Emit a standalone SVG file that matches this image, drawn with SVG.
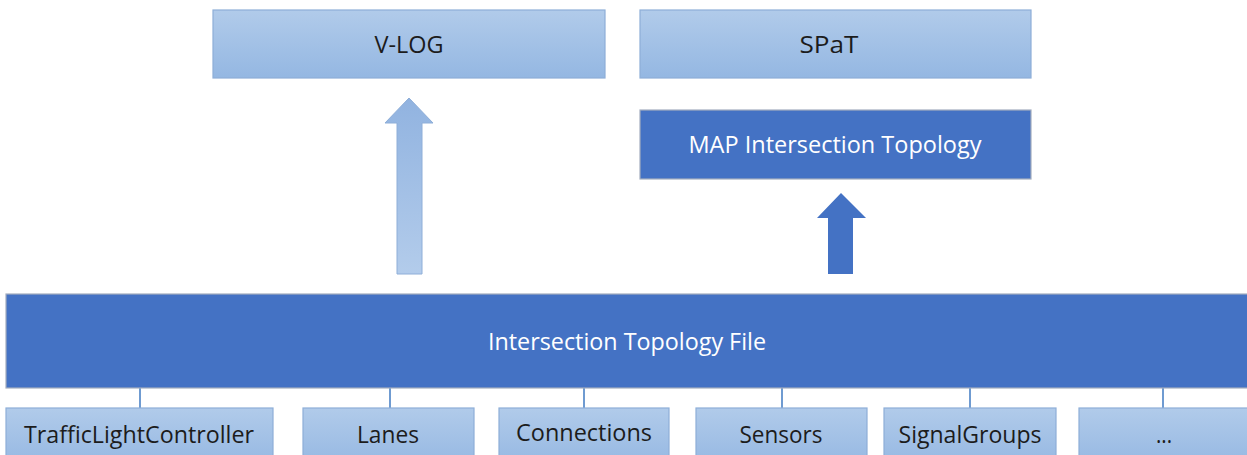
<svg xmlns="http://www.w3.org/2000/svg" width="1247" height="455" viewBox="0 0 1247 455">
  <defs>
    <linearGradient id="lightFill" x1="0" y1="0" x2="0" y2="1">
      <stop offset="0" stop-color="#b1cbea"/>
      <stop offset="1" stop-color="#94b7e2"/>
    </linearGradient>
    <linearGradient id="arrowFill" x1="0" y1="0" x2="0" y2="1">
      <stop offset="0" stop-color="#91b3e0"/>
      <stop offset="1" stop-color="#b3cceb"/>
    </linearGradient>
  </defs>
  <style>
    .light { fill: url(#lightFill); stroke: #8eaed8; stroke-width: 1.2; }
    .dark { fill: #4472c4; stroke: #a3adbf; stroke-width: 1.2; }
    .lbl { font-family: "Open Sans", "Liberation Sans", sans-serif; font-size: 24px; fill: #1c1c1c; text-anchor: middle; }
    .lblw { font-family: "Open Sans", "Liberation Sans", sans-serif; font-size: 24px; fill: #ffffff; text-anchor: middle; }
    .link { stroke: #6f9bd1; stroke-width: 2; fill: none; }
  </style>

  <!-- tree links from the topology file to its parts -->
  <g id="connectors">
    <line class="link" x1="140" y1="388" x2="140" y2="408"/>
    <line class="link" x1="390" y1="388" x2="390" y2="408"/>
    <line class="link" x1="584" y1="388" x2="584" y2="408"/>
    <line class="link" x1="782" y1="388" x2="782" y2="408"/>
    <line class="link" x1="970" y1="388" x2="970" y2="408"/>
    <line class="link" x1="1163" y1="388" x2="1163" y2="408"/>
    <!-- block arrows -->
    <path id="arrow-vlog" d="M397 274 L397 123 L385 123 L409 98 L433 123 L422 123 L422 274 Z" fill="url(#arrowFill)" stroke="#8eaed8" stroke-width="1"/>
    <path id="arrow-map" d="M828 274 L828 218 L817 218 L841 193 L866 218 L853 218 L853 274 Z" fill="#4472c4"/>
  </g>

  <g id="vlog">
    <rect class="light" x="213" y="10" width="392" height="68"/>
    <text class="lbl" x="409" y="53" textLength="69" lengthAdjust="spacingAndGlyphs">V-LOG</text>
  </g>
  <g id="spat">
    <rect class="light" x="640" y="10" width="391" height="68"/>
    <text class="lbl" x="829" y="53" textLength="59" lengthAdjust="spacingAndGlyphs">SPaT</text>
  </g>
  <g id="map">
    <rect class="dark" x="640" y="110" width="391" height="69"/>
    <text class="lblw" x="835" y="153" textLength="293" lengthAdjust="spacingAndGlyphs">MAP Intersection Topology</text>
  </g>
  <g id="itf">
    <rect class="dark" x="6" y="294" width="1250" height="94"/>
    <text class="lblw" x="627" y="350" textLength="278" lengthAdjust="spacingAndGlyphs">Intersection Topology File</text>
  </g>

  <g id="tlc">
    <rect class="light" x="6" y="408" width="267" height="60"/>
    <text class="lbl" x="139" y="443" textLength="230" lengthAdjust="spacingAndGlyphs">TrafficLightController</text>
  </g>
  <g id="lanes">
    <rect class="light" x="303" y="408" width="171" height="60"/>
    <text class="lbl" x="388" y="443" textLength="62" lengthAdjust="spacingAndGlyphs">Lanes</text>
  </g>
  <g id="connections">
    <rect class="light" x="499" y="408" width="170" height="60"/>
    <text class="lbl" x="584" y="441" textLength="136" lengthAdjust="spacingAndGlyphs">Connections</text>
  </g>
  <g id="sensors">
    <rect class="light" x="696" y="408" width="171" height="60"/>
    <text class="lbl" x="781" y="443" textLength="83" lengthAdjust="spacingAndGlyphs">Sensors</text>
  </g>
  <g id="signalgroups">
    <rect class="light" x="884" y="408" width="172" height="60"/>
    <text class="lbl" x="970" y="443" textLength="143" lengthAdjust="spacingAndGlyphs">SignalGroups</text>
  </g>
  <g id="more">
    <rect class="light" x="1079" y="408" width="180" height="60"/>
    <text class="lbl" x="1164" y="443" textLength="16" lengthAdjust="spacingAndGlyphs">...</text>
  </g>
</svg>
